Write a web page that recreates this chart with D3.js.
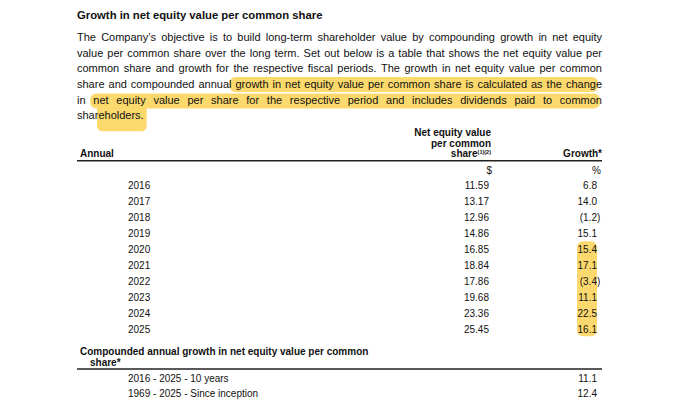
<!DOCTYPE html>
<html>
<head>
<meta charset="utf-8">
<script src="https://cdn.jsdelivr.net/npm/d3@7"></script>
<style>
  body { margin: 0; background: #fff; }
  text { font-family: 'Liberation Sans', Arial, sans-serif; fill: #111; }
</style>
</head>
<body>
<script>
// table data
const years = [2016, 2017, 2018, 2019, 2020, 2021, 2022, 2023, 2024, 2025]
const navps = [11.59, 13.17, 12.96, 14.86, 16.85, 18.84, 17.86, 19.68, 23.36, 25.45]
const growth = [6.8, 14.0, -1.2, 15.1, 15.4, 17.1, -3.4, 11.1, 22.5, 16.1]
const compoundLabels = ['2016 - 2025 - 10 years', '1969 - 2025 - Since inception']
const compoundValues = [11.1, 12.4]
const highlightedYears = [2020, 2021, 2022, 2023, 2024, 2025]

const title = 'Growth in net equity value per common share'
const paragraph = [
  'The Company’s objective is to build long-term shareholder value by compounding growth in net equity',
  'value per common share over the long term. Set out below is a table that shows the net equity value per',
  'common share and growth for the respective fiscal periods. The growth in net equity value per common',
  'share and compounded annual growth in net equity value per common share is calculated as the change',
  'in net equity value per share for the respective period and includes dividends paid to common',
  'shareholders.'
]

const W = 680, H = 410
const left = 77, right = 602
const colYear = 128, colValue = 489, colGrowth = 597
const yellow = '#fcd55e'

const svg = d3.select('body').append('svg').attr('width', W).attr('height', H)
const hl = svg.append('g').attr('fill', yellow).attr('opacity', 0.9)
const txt = svg.append('g')

// title
txt.append('text').attr('x', left).attr('y', 19)
  .style('font-size', '11.3px').style('font-weight', 'bold').text(title)

// justified paragraph, word by word
const lineH = 15.7, paraTop = 40.8
const wordPos = []
paragraph.forEach((line, i) => {
  const y = paraTop + i * lineH
  const words = line.split(' ')
  const nodes = words.map(w => txt.append('text').attr('y', y).style('font-size', '11px').text(w))
  const widths = nodes.map(n => n.node().getComputedTextLength())
  const total = d3.sum(widths)
  const last = i === paragraph.length - 1
  const gap = last ? 3.06 : (right - left - total) / (words.length - 1)
  let x = left
  wordPos[i] = []
  nodes.forEach((n, j) => {
    n.attr('x', x)
    wordPos[i].push({ word: words[j], x, w: widths[j], y })
    x += widths[j] + gap
  })
})

// table header
const hdr = txt.append('g').style('font-size', '10px').style('font-weight', 'bold')
hdr.append('text').attr('x', 80).attr('y', 157).text('Annual')
hdr.append('text').attr('x', 491).attr('y', 136.2).attr('text-anchor', 'end').text('Net equity value')
hdr.append('text').attr('x', 491).attr('y', 146.7).attr('text-anchor', 'end').text('per common')
const shareHdr = hdr.append('text').attr('x', 491).attr('y', 157).attr('text-anchor', 'end')
shareHdr.append('tspan').text('share')
shareHdr.append('tspan').attr('dy', -3.5).style('font-size', '5.5px').text('(1)(2)')
hdr.append('text').attr('x', right).attr('y', 157).attr('text-anchor', 'end').text('Growth*')

txt.append('line').attr('x1', left).attr('x2', right).attr('y1', 160.7).attr('y2', 160.7)
  .attr('stroke', '#222').attr('stroke-width', 1.4)

const body = txt.append('g').style('font-size', '10px')
body.append('text').attr('x', 492).attr('y', 173.6).attr('text-anchor', 'end').text('$')
body.append('text').attr('x', 601).attr('y', 173.6).attr('text-anchor', 'end').text('%')

const yRow = d3.scalePoint().domain(years).range([189.3, 333.3])
const fmt2 = d3.format('.2f'), fmt1 = d3.format('.1f')

const rows = body.selectAll('g.row').data(years).join('g').attr('class', 'row')
  .attr('transform', d => `translate(0,${yRow(d)})`)
rows.append('text').attr('x', colYear).text(d => d)
rows.append('text').attr('x', colValue).attr('text-anchor', 'end').text((d, i) => fmt2(navps[i]))
rows.append('text').attr('x', colGrowth).attr('text-anchor', 'end')
  .text((d, i) => growth[i] < 0 ? '(' + fmt1(-growth[i]) : fmt1(growth[i]))
rows.filter((d, i) => growth[i] < 0).append('text').attr('x', colGrowth).text(')')

// compounded section
const cmp = txt.append('g').style('font-size', '10px').style('font-weight', 'bold')
cmp.append('text').attr('x', 80).attr('y', 355.3).text('Compounded annual growth in net equity value per common')
cmp.append('text').attr('x', 90).attr('y', 366).text('share*')
txt.append('line').attr('x1', left).attr('x2', right).attr('y1', 369).attr('y2', 369)
  .attr('stroke', '#222').attr('stroke-width', 1.4)

const yCmp = d3.scalePoint().domain(compoundLabels).range([382, 397])
const crow = body.selectAll('g.crow').data(compoundLabels).join('g').attr('class', 'crow')
  .attr('transform', d => `translate(0,${yCmp(d)})`)
crow.append('text').attr('x', colYear).text(d => d)
crow.append('text').attr('x', colGrowth).attr('text-anchor', 'end').text((d, i) => fmt1(compoundValues[i]))

// highlighter marks, placed from the text they cover
const growthWord = wordPos[3].find(d => d.word === 'growth')
const netWord = wordPos[4].find(d => d.word === 'net')
const holders = wordPos[5][0]
hl.append('rect').attr('x', growthWord.x - 6).attr('y', growthWord.y - 11)
  .attr('width', right - 4 - (growthWord.x - 6)).attr('height', 15).attr('rx', 6)
hl.append('rect').attr('x', netWord.x - 3).attr('y', netWord.y - 10)
  .attr('width', right - 2 - (netWord.x - 3)).attr('height', 15).attr('rx', 6)
hl.append('rect').attr('x', holders.x + 20).attr('y', netWord.y)
  .attr('width', holders.w - 17).attr('height', holders.y + 12 - netWord.y).attr('rx', 5)
hl.append('rect').attr('x', colGrowth - 20)
  .attr('y', yRow(highlightedYears[0]) - 12)
  .attr('width', 20)
  .attr('height', yRow(highlightedYears[highlightedYears.length - 1]) + 3 - (yRow(highlightedYears[0]) - 12))
  .attr('rx', 6)
</script>
</body>
</html>
